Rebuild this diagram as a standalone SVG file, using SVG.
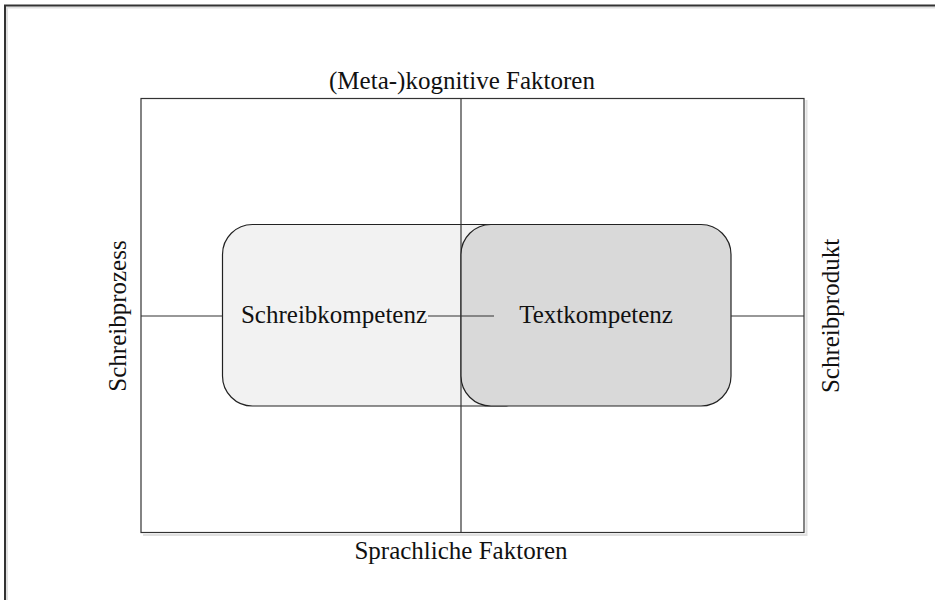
<svg xmlns="http://www.w3.org/2000/svg" width="935" height="600" viewBox="0 0 935 600">
  <style>
    .lbl { font-family: "Liberation Serif", "Times New Roman", serif; font-size: 25px; fill: #111; }
    .ln { stroke: #333; stroke-width: 1.2; fill: none; }
    .shadow { stroke: #e0e0e0; stroke-width: 2; fill: none; }
    .box { stroke: #222; stroke-width: 1.2; }
  </style>
  <rect width="935" height="600" fill="#ffffff"/>
  <g id="frame">
    <path class="shadow" d="M7 600 V7.5 H935"/>
    <path d="M5 600 V5.5 H935" stroke="#333" stroke-width="2" fill="none"/>
  </g>
  <g id="quadrant">
    <path class="shadow" d="M143 535 H806.5 V100"/>
    <rect x="141" y="98.5" width="663" height="434" class="ln"/>
  </g>
  <g id="schreibkompetenz">
    <rect x="222.5" y="224.5" width="310" height="181.5" rx="30" ry="30" fill="#f2f2f2" class="box"/>
  </g>
  <g id="axis">
    <line x1="461" y1="98.5" x2="461" y2="532.5" class="ln"/>
  </g>
  <g id="textkompetenz">
    <rect x="461" y="224.5" width="270" height="181.5" rx="30" ry="30" fill="#d9d9d9" class="box"/>
  </g>
  <g id="connectors">
    <line x1="141" y1="316" x2="222.5" y2="316" class="ln"/>
    <line x1="428" y1="316" x2="494" y2="316" class="ln"/>
    <line x1="731" y1="316" x2="804" y2="316" class="ln"/>
  </g>
  <g id="labels">
    <text class="lbl" x="334" y="322.5" text-anchor="middle">Schreibkompetenz</text>
    <text class="lbl" x="596" y="322.5" text-anchor="middle">Textkompetenz</text>
    <text class="lbl" x="462" y="89" text-anchor="middle">(Meta-)kognitive Faktoren</text>
    <text class="lbl" x="461" y="559" text-anchor="middle">Sprachliche Faktoren</text>
    <text class="lbl" transform="translate(126 316) rotate(-90)" text-anchor="middle">Schreibprozess</text>
    <text class="lbl" transform="translate(839 316) rotate(-90)" text-anchor="middle">Schreibprodukt</text>
  </g>
</svg>
